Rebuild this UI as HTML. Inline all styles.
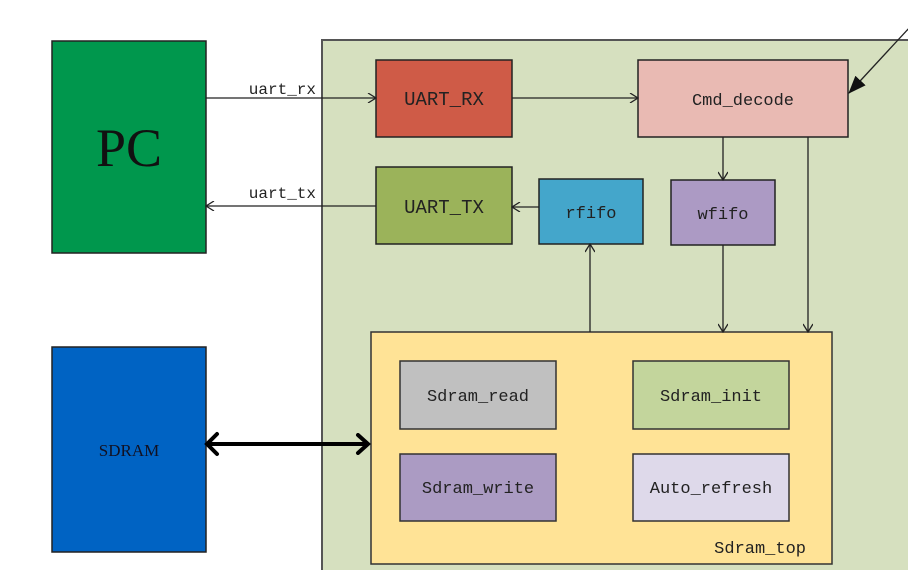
<!DOCTYPE html>
<html><head><meta charset="utf-8"><style>
html,body{margin:0;padding:0;background:#fff;}
svg{display:block;}
text{font-family:"Liberation Serif","Noto Serif CJK SC",serif;}
.m{font-family:"Liberation Mono","Noto Sans CJK SC",monospace;font-size:17px;fill:#222;}
</style></head><body>
<svg width="908" height="570" viewBox="0 0 908 570" xmlns="http://www.w3.org/2000/svg">
<defs>
<marker id="a" markerWidth="10" markerHeight="10" refX="9" refY="5" orient="auto" markerUnits="userSpaceOnUse"><path d="M1,0 L9,5 L1,10" fill="none" stroke="#222" stroke-width="1.3"/></marker>
<marker id="f" markerWidth="18" markerHeight="14" refX="17" refY="7" orient="auto" markerUnits="userSpaceOnUse"><path d="M0,0 L18,7 L0,14 Z" fill="#111"/></marker>
<marker id="t" markerWidth="16" markerHeight="22" refX="13" refY="11" orient="auto" markerUnits="userSpaceOnUse"><path d="M3,2 L13,11 L3,20" fill="none" stroke="#000" stroke-width="4" stroke-linecap="round"/></marker>
</defs>
<rect x="0" y="0" width="908" height="570" fill="#fff"/>
<rect x="322" y="40" width="600" height="540" fill="#d6e0bf" stroke="#555" stroke-width="2"/>
<rect x="52" y="41" width="154" height="212" fill="#00974d" stroke="#222" stroke-width="1.5"/>
<text x="129" y="166" font-size="54" text-anchor="middle" fill="#111">PC</text>
<rect x="52" y="347" width="154" height="205" fill="#0063c3" stroke="#222" stroke-width="1.5"/>
<text x="129" y="456" font-size="17" text-anchor="middle" fill="#112">SDRAM</text>

<rect x="376" y="60" width="136" height="77" fill="#cf5b47" stroke="#222" stroke-width="1.5"/>
<text x="444" y="105" class="m" text-anchor="middle" style="font-size:19px">UART_RX</text>
<rect x="638" y="60" width="210" height="77" fill="#e9bab3" stroke="#222" stroke-width="1.5"/>
<text x="743" y="105" class="m" text-anchor="middle">Cmd_decode</text>
<rect x="376" y="167" width="136" height="77" fill="#9bb35a" stroke="#222" stroke-width="1.5"/>
<text x="444" y="213" class="m" text-anchor="middle" style="font-size:19px">UART_TX</text>
<rect x="539" y="179" width="104" height="65" fill="#44a6cb" stroke="#222" stroke-width="1.5"/>
<text x="591" y="218" class="m" text-anchor="middle">rfifo</text>
<rect x="671" y="180" width="104" height="65" fill="#ac9ac4" stroke="#222" stroke-width="1.5"/>
<text x="723" y="219" class="m" text-anchor="middle">wfifo</text>

<rect x="371" y="332" width="461" height="232" fill="#ffe396" stroke="#333" stroke-width="1.5"/>
<rect x="400" y="361" width="156" height="68" fill="#c0c0c0" stroke="#333" stroke-width="1.5"/>
<text x="478" y="401" class="m" text-anchor="middle">Sdram_read</text>
<rect x="633" y="361" width="156" height="68" fill="#c3d59c" stroke="#333" stroke-width="1.5"/>
<text x="711" y="401" class="m" text-anchor="middle">Sdram_init</text>
<rect x="400" y="454" width="156" height="67" fill="#ab9bc3" stroke="#333" stroke-width="1.5"/>
<text x="478" y="493" class="m" text-anchor="middle">Sdram_write</text>
<rect x="633" y="454" width="156" height="67" fill="#ded9ea" stroke="#333" stroke-width="1.5"/>
<text x="711" y="493" class="m" text-anchor="middle">Auto_refresh</text>
<text x="806" y="553" class="m" text-anchor="end">Sdram_top</text>

<g stroke="#222" stroke-width="1.3" fill="none">
<line x1="206" y1="98" x2="376" y2="98" marker-end="url(#a)"/>
<line x1="512" y1="98" x2="638" y2="98" marker-end="url(#a)"/>
<line x1="376" y1="206" x2="206" y2="206" marker-end="url(#a)"/>
<line x1="539" y1="207" x2="512" y2="207" marker-end="url(#a)"/>
<line x1="723" y1="137" x2="723" y2="180" marker-end="url(#a)"/>
<line x1="723" y1="245" x2="723" y2="332" marker-end="url(#a)"/>
<line x1="808" y1="137" x2="808" y2="332" marker-end="url(#a)"/>
<line x1="590" y1="332" x2="590" y2="244" marker-end="url(#a)"/>
<line x1="910" y1="27" x2="849" y2="93" marker-end="url(#f)"/>
</g>
<line x1="209" y1="444" x2="368" y2="444" stroke="#000" stroke-width="4" marker-end="url(#t)" marker-start="url(#t)" style="marker-start:none"/>
<path d="M217,434 L207,444 L217,454" fill="none" stroke="#000" stroke-width="4" stroke-linecap="round"/>
<text x="316" y="94" class="m" text-anchor="end" style="font-size:16px">uart_rx</text>
<text x="316" y="198" class="m" text-anchor="end" style="font-size:16px">uart_tx</text>
</svg>
</body></html>
